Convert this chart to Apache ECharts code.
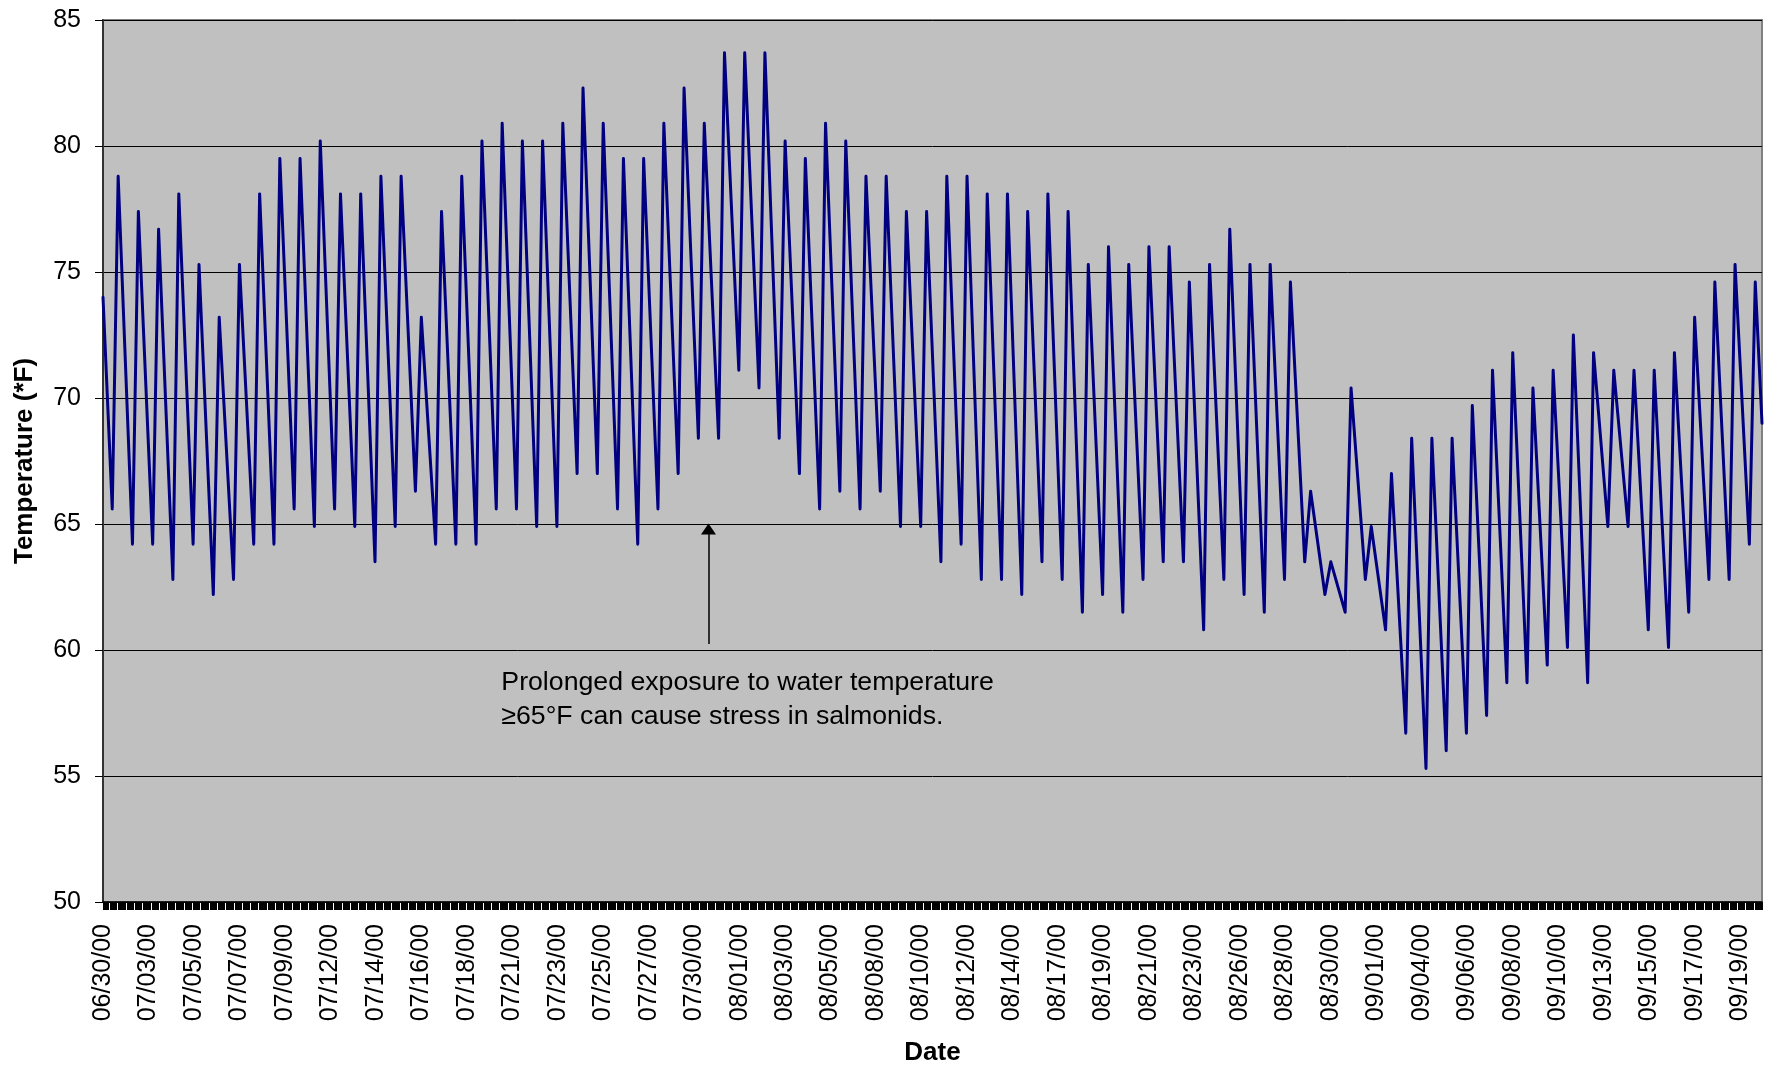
<!DOCTYPE html>
<html>
<head>
<meta charset="utf-8">
<script src="https://cdn.jsdelivr.net/npm/echarts@6/dist/echarts.min.js"></script>
<style>
  html, body { margin: 0; padding: 0; background: #ffffff; }
  #chart { width: 1769px; height: 1068px; }
</style>
</head>
<body>
<div id="chart"></div>
<script>
// ---- Data (hours counted from the left edge of the axis) ----
const tickLabels = ['06/30/00','07/03/00','07/05/00','07/07/00','07/09/00','07/12/00','07/14/00','07/16/00',
  '07/18/00','07/21/00','07/23/00','07/25/00','07/27/00','07/30/00','08/01/00','08/03/00','08/05/00',
  '08/08/00','08/10/00','08/12/00','08/14/00','08/17/00','08/19/00','08/21/00','08/23/00','08/26/00',
  '08/28/00','08/30/00','09/01/00','09/04/00','09/06/00','09/08/00','09/10/00','09/13/00','09/15/00',
  '09/17/00','09/19/00'];
const hoursPerLabel = 54;          // one axis label every 54 hourly readings
const axisEndHour = 1970;          // last reading on the axis

// daily minimum (early in each day) and daily maximum (later the same day), °F
const dailyLow = [65.6,64.2,64.2,62.8,64.2,62.2,62.8,64.2,64.2,65.6,
  64.9,65.6,64.9,63.5,64.9,66.3,64.2,64.2,64.2,65.6,
  65.6,64.9,64.9,67.0,67.0,65.6,64.2,65.6,67.0,68.4,
  68.4,71.1,70.4,68.4,67.0,65.6,66.3,65.6,66.3,64.9,
  64.9,63.5,64.2,62.8,62.8,62.2,63.5,62.8,61.5,62.2,
  61.5,62.8,63.5,63.5,60.8,62.8,62.2,61.5,62.8,63.5,
  62.2,61.5,62.8,60.8,56.7,55.3,56.0,56.7,57.4,58.7,
  58.7,59.4,60.1,58.7,64.9,64.9,60.8,60.1,61.5,62.8,
  62.8,64.2];
const dailyHigh = [78.8,77.4,76.7,78.1,75.3,73.2,75.3,78.1,79.5,79.5,
  80.2,78.1,78.1,78.8,78.8,73.2,77.4,78.8,80.2,80.9,
  80.2,80.2,80.9,82.3,80.9,79.5,79.5,80.9,82.3,80.9,
  83.7,83.7,83.7,80.2,79.5,80.9,80.2,78.8,78.8,77.4,
  77.4,78.8,78.8,78.1,78.1,77.4,78.1,77.4,75.3,76.0,
  75.3,76.0,76.0,74.6,75.3,76.7,75.3,75.3,74.6,66.3,
  63.5,70.4,64.9,67.0,68.4,68.4,68.4,69.7,71.1,71.8,
  70.4,71.1,72.5,71.8,71.1,71.1,71.1,71.8,73.2,74.6,
  75.3,74.6];
const lowHourOfDay = 11;   // hour (within each 24 h) of the daily minimum
const highHourOfDay = 18;  // hour of the daily maximum
const startTemp = 74.0;    // first reading
const endTemp = 69.0;      // last reading

const noteText = 'Prolonged exposure to water temperature\n\u226565\u00b0F can cause stress in salmonids.';
const noteAnchor = [473, 59.38];       // [hour, °F] top-left of the note
const arrowHour = 719;
const arrowFromTemp = 60.24;
const arrowToTemp = 64.8;

// ---- Build series ----
const seriesData = [[0, startTemp]];
for (let k = 0; k < dailyLow.length; k++) {
  seriesData.push([k * 24 + lowHourOfDay, dailyLow[k]]);
  seriesData.push([k * 24 + highHourOfDay, dailyHigh[k]]);
}
seriesData.push([axisEndHour, endTemp]);

const FONT = "'Liberation Sans', Arial, Helvetica, sans-serif";
const chart = echarts.init(document.getElementById('chart'), null, { renderer: 'canvas' });

const option = {
  backgroundColor: '#ffffff',
  animation: false,
  grid: {
    left: 103, right: 7, top: 20, bottom: 166,
    show: true, backgroundColor: '#c0c0c0', borderColor: '#808080', borderWidth: 2,
    containLabel: false, outerBoundsMode: 'none'
  },
  xAxis: {
    type: 'value', min: 0, max: axisEndHour, interval: hoursPerLabel,
    name: 'Date', nameLocation: 'middle', nameGap: 138,
    nameTextStyle: { fontFamily: FONT, fontSize: 26, fontWeight: 'bold', color: '#000' },
    axisLine: { show: true, onZero: false, lineStyle: { color: '#000', width: 1.5 } },
    axisTick: { show: true, length: 8, lineStyle: { color: '#000', width: 1 } },
    minorTick: { show: true, splitNumber: 40, length: 8, lineStyle: { color: '#000', width: 1 } },
    splitLine: { show: false },
    axisLabel: {
      rotate: 90, margin: 22, fontFamily: FONT, fontSize: 25, color: '#000',
      showMaxLabel: false,
      formatter: function (v) {
        const i = v / hoursPerLabel;
        return Number.isInteger(i) && tickLabels[i] ? tickLabels[i] : '';
      }
    }
  },
  yAxis: {
    type: 'value', min: 50, max: 85, interval: 5,
    name: 'Temperature (*F)', nameLocation: 'middle', nameGap: 65,
    nameTextStyle: { fontFamily: FONT, fontSize: 26, fontWeight: 'bold', color: '#000' },
    axisLine: { show: true, lineStyle: { color: '#333', width: 2 } },
    axisTick: { show: true, length: 8, lineStyle: { color: '#000', width: 1 } },
    splitLine: { show: true, lineStyle: { color: '#000', width: 1 } },
    axisLabel: { margin: 22, fontFamily: FONT, fontSize: 25, color: '#000' }
  },
  series: [{
    type: 'line',
    data: seriesData,
    showSymbol: false,
    symbol: 'none',
    smooth: false,
    lineStyle: { color: '#000080', width: 3, join: 'round', cap: 'round' },
    markLine: {
      silent: true,
      animation: false,
      label: { show: false },
      lineStyle: { color: '#000', width: 1.5, type: 'solid' },
      symbol: ['none', 'triangle'],
      symbolSize: [15, 11],
      data: [[
        { coord: [arrowHour, arrowFromTemp] },
        { coord: [arrowHour, arrowToTemp] }
      ]]
    }
  }]
};
chart.setOption(option);

const p = chart.convertToPixel({ gridIndex: 0 }, noteAnchor);
chart.setOption({
  graphic: [{
    type: 'text', left: p[0], top: p[1], silent: true,
    style: { text: noteText, font: '26.7px ' + FONT, fill: '#000', lineHeight: 34 }
  }]
});
</script>
</body>
</html>
